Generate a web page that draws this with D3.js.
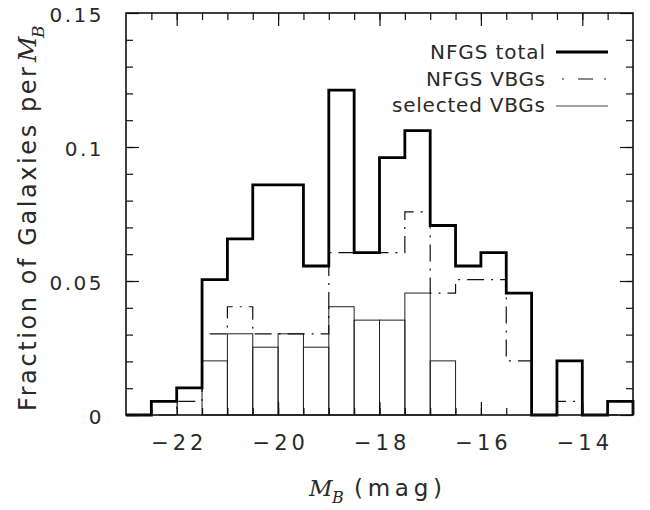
<!DOCTYPE html>
<html>
<head>
<meta charset="utf-8">
<script src="https://cdn.jsdelivr.net/npm/d3@7"></script>
<style>
  body { margin: 0; background: #fff; }
  svg text { font-family: "DejaVu Sans", sans-serif; fill: #2a2a2a; }
  .serif { font-family: "DejaVu Serif", "Liberation Serif", serif !important; font-style: italic; }
</style>
</head>
<body>
<svg id="chart" width="650" height="510"></svg>
<script>
// Absolute B magnitude bins, 0.5 mag wide
const binEdges = [-23, -22.5, -22, -21.5, -21, -20.5, -20, -19.5, -19, -18.5, -18,
                  -17.5, -17, -16.5, -16, -15.5, -15, -14.5, -14, -13.5, -13];

// Fraction of galaxies per bin
const nfgsTotal    = [0, 0.0051, 0.0101, 0.0505, 0.0657, 0.0859, 0.0859, 0.0556, 0.1212, 0.0606,
                      0.0960, 0.1061, 0.0707, 0.0556, 0.0606, 0.0455, 0, 0.0202, 0, 0.0051];
const nfgsVBGs     = [0, 0, 0.0051, 0.0303, 0.0404, 0.0303, 0.0303, 0.0303, 0.0606, 0.0606,
                      0.0606, 0.0758, 0.0455, 0.0505, 0.0505, 0.0202, 0, 0.0051, 0, 0];
const selectedVBGs = [0, 0, 0, 0.0202, 0.0303, 0.0253, 0.0303, 0.0253, 0.0404, 0.0354,
                      0.0354, 0.0455, 0.0202, 0, 0, 0, 0, 0, 0, 0];

const xTickLabels = [-22, -20, -18, -16, -14];
const yTickLabels = [0, 0.05, 0.1, 0.15];
const legendLabels = ["NFGS total", "NFGS VBGs", "selected VBGs"];

const svg = d3.select("#chart");
const plotL = 126, plotR = 633, plotT = 13, plotB = 415;

const x = d3.scaleLinear().domain([-23, -13]).range([plotL, plotR]);
const y = d3.scaleLinear().domain([0, 0.15]).range([plotB, plotT]);

const dashDot = "17,7,2,7";

// step outline of a histogram, closed down to the baseline at both ends
function stepPoints(values) {
  const pts = [[binEdges[0], 0]];
  values.forEach((v, i) => { pts.push([binEdges[i], v]); pts.push([binEdges[i + 1], v]); });
  pts.push([binEdges[binEdges.length - 1], 0]);
  return pts;
}
const line = d3.line().x(d => x(d[0])).y(d => y(d[1]));

// selected VBGs: open bars
svg.append("g").selectAll("rect")
  .data(selectedVBGs.map((v, i) => ({ v, x0: binEdges[i], x1: binEdges[i + 1] })).filter(d => d.v > 0))
  .join("rect")
  .attr("x", d => x(d.x0)).attr("width", d => x(d.x1) - x(d.x0))
  .attr("y", d => y(d.v)).attr("height", d => y(0) - y(d.v))
  .attr("fill", "none").attr("stroke", "#222").attr("stroke-width", 1);

// NFGS VBGs: dash-dot step line
svg.append("path").attr("d", line(stepPoints(nfgsVBGs)))
  .attr("fill", "none").attr("stroke", "#111").attr("stroke-width", 1.2)
  .attr("stroke-dasharray", dashDot);

// NFGS total: heavy step line
svg.append("path").attr("d", line(stepPoints(nfgsTotal)))
  .attr("fill", "none").attr("stroke", "#000").attr("stroke-width", 2.8)
  .attr("stroke-linejoin", "miter");

// axes: ticks point inward on all four sides
const xMinor = d3.range(-22.5, -13, 0.5);
const yMinor = d3.range(0.01, 0.15, 0.01);
function styleAxis(g) {
  g.select(".domain").remove();
  g.selectAll("line").attr("stroke", "#111").attr("stroke-width", 1.2);
  g.selectAll("text").style("font-size", "20px").attr("fill", "#2a2a2a");
}

svg.append("g").attr("transform", `translate(0,${plotB})`)
  .call(d3.axisBottom(x).tickValues(xMinor).tickSize(-7).tickFormat("")).call(styleAxis);
svg.append("g").attr("transform", `translate(0,${plotB})`)
  .call(d3.axisBottom(x).tickValues(xTickLabels).tickSize(-13).tickPadding(20)
        .tickFormat(d => "\u2212" + Math.abs(d)))
  .call(styleAxis)
  .call(g => g.selectAll("text").style("font-size", "21px")
              .attr("letter-spacing", 4).attr("dx", "0.1em"));
svg.append("g").attr("transform", `translate(0,${plotT})`)
  .call(d3.axisTop(x).tickValues(xMinor).tickSize(-7).tickFormat("")).call(styleAxis);
svg.append("g").attr("transform", `translate(0,${plotT})`)
  .call(d3.axisTop(x).tickValues(xTickLabels).tickSize(-13).tickFormat("")).call(styleAxis);

svg.append("g").attr("transform", `translate(${plotL},0)`)
  .call(d3.axisLeft(y).tickValues(yMinor).tickSize(-7).tickFormat("")).call(styleAxis);
svg.append("g").attr("transform", `translate(${plotL},0)`)
  .call(d3.axisLeft(y).tickValues(yTickLabels).tickSize(-13).tickPadding(22)
        .tickFormat(d => d === 0 ? "0" : String(d)))
  .call(styleAxis)
  .call(g => g.selectAll("text").attr("letter-spacing", 2.5).attr("dy", "0.42em"));
svg.append("g").attr("transform", `translate(${plotR},0)`)
  .call(d3.axisRight(y).tickValues(yMinor).tickSize(-7).tickFormat("")).call(styleAxis);
svg.append("g").attr("transform", `translate(${plotR},0)`)
  .call(d3.axisRight(y).tickValues(yTickLabels).tickSize(-13).tickFormat("")).call(styleAxis);

// frame
svg.append("rect").attr("x", plotL).attr("y", plotT)
  .attr("width", plotR - plotL).attr("height", plotB - plotT)
  .attr("fill", "none").attr("stroke", "#111").attr("stroke-width", 1.6);

// legend
const legendStyles = [
  { w: 2.8, dash: null, c: "#000" },
  { w: 1.2, dash: "0,6,2,14,15,11,2,40", c: "#111" },
  { w: 1, dash: null, c: "#444" }
];
const legendRows = [59, 86, 112];
const legendLineY = [52, 79, 106];
const legendTextLen = [115, 119, 153];
legendLabels.forEach((t, i) => {
  svg.append("text").attr("x", 545).attr("y", legendRows[i])
    .attr("text-anchor", "end").style("font-size", "20px")
    .attr("textLength", legendTextLen[i]).attr("lengthAdjust", "spacing").text(t);
  const l = svg.append("line").attr("x1", 556).attr("x2", 608)
    .attr("y1", legendLineY[i]).attr("y2", legendLineY[i])
    .attr("stroke", legendStyles[i].c).attr("stroke-width", legendStyles[i].w);
  if (legendStyles[i].dash) l.attr("stroke-dasharray", legendStyles[i].dash);
});

// x-axis title: M_B (mag)
svg.append("text").attr("class", "serif").attr("x", 309).attr("y", 496)
  .style("font-size", "23px").text("M");
svg.append("text").attr("class", "serif").attr("x", 332).attr("y", 503)
  .style("font-size", "16px").text("B");
svg.append("text").attr("x", 354).attr("y", 496).style("font-size", "23px")
  .attr("textLength", 88).attr("lengthAdjust", "spacing").text("(mag)");

// y-axis title: Fraction of Galaxies per M_B
const yt = svg.append("g").attr("transform", "translate(36,0) rotate(-90)");
yt.append("text").attr("x", -411).attr("y", 0).style("font-size", "24px")
  .attr("textLength", 344).attr("lengthAdjust", "spacing").text("Fraction of Galaxies per");
yt.append("text").attr("class", "serif").attr("x", -62).attr("y", 0)
  .style("font-size", "25px").text("M");
yt.append("text").attr("class", "serif").attr("x", -38).attr("y", 8)
  .style("font-size", "17px").text("B");
</script>
</body>
</html>
